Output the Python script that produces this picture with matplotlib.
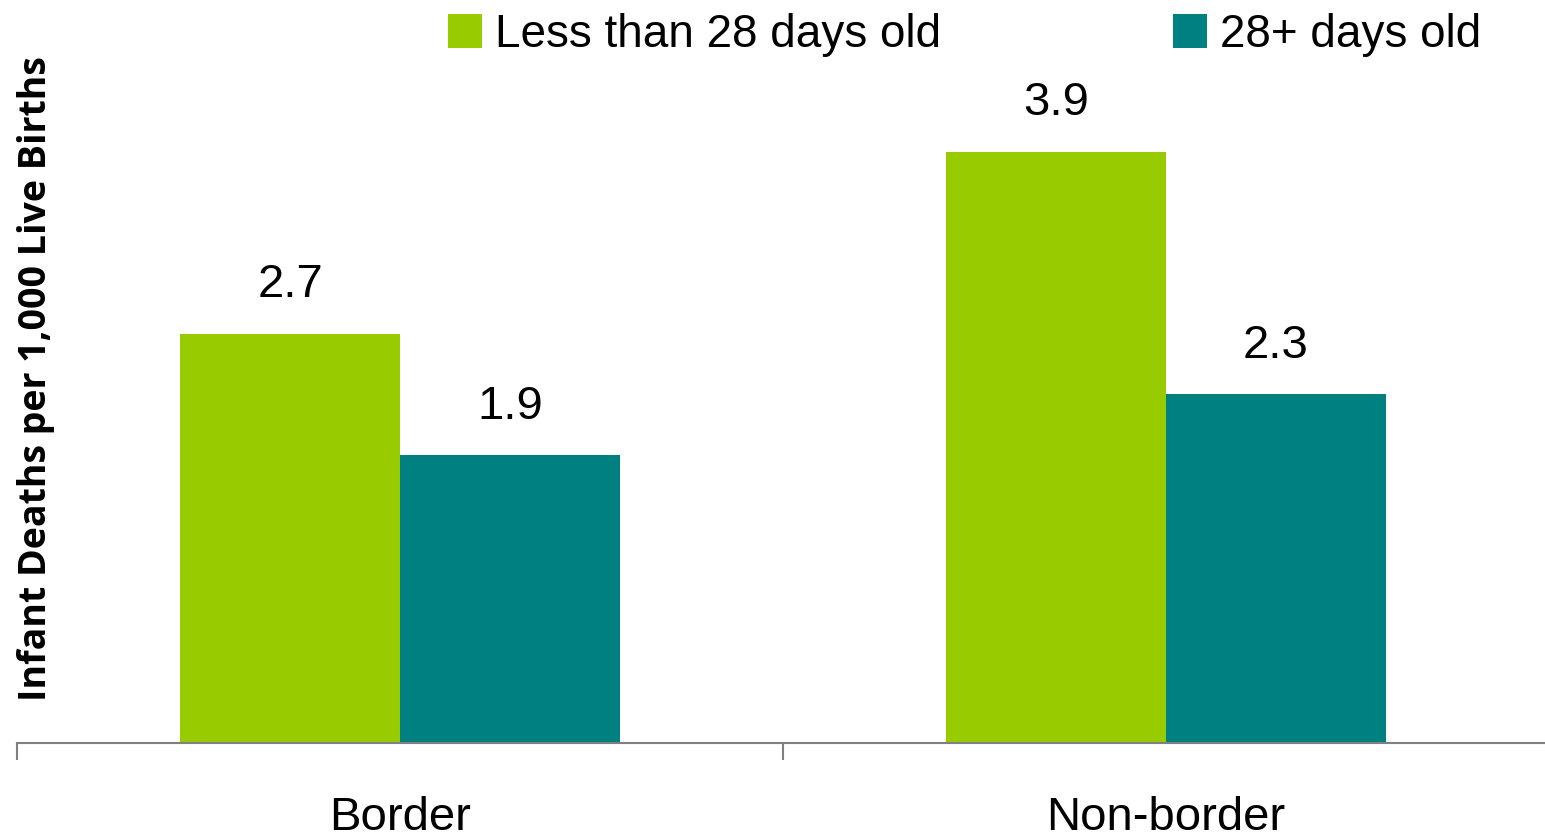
import matplotlib
matplotlib.use("Agg")
import matplotlib.pyplot as plt
import numpy as np

categories = ["Border", "Non-border"]
series_names = ["Less than 28 days old", "28+ days old"]
less_28 = [2.7, 3.9]
plus_28 = [1.9, 2.3]
colors = ["#99CC00", "#008080"]
ylabel = "Infant Deaths per 1,000 Live Births"

W, H = 1545, 838
fig = plt.figure(figsize=(W / 100, H / 100), dpi=100)
ax = fig.add_axes([17 / W, 1 - 743 / H, 1532 / W, 743 / H])

x = np.arange(len(categories))
bw = 0.287
b1 = ax.bar(x - bw / 2, less_28, bw, color=colors[0], label=series_names[0])
b2 = ax.bar(x + bw / 2, plus_28, bw, color=colors[1], label=series_names[1])

ax.set_xlim(-0.5, len(categories) - 0.5)
ax.set_ylim(0, 743 / 151.6)

tfont = "Liberation Sans"
for bars in (b1, b2):
    for r in bars:
        ax.annotate(f"{r.get_height():.1f}", (r.get_x() + r.get_width() / 2, r.get_height()),
                    xytext=(0, 19), textcoords="offset points", ha="center", va="bottom",
                    fontsize=34, family=tfont)

for s in ["top", "right", "left"]:
    ax.spines[s].set_visible(False)
ax.spines["bottom"].set_color("#808080")
ax.spines["bottom"].set_linewidth(1.5)
ax.set_yticks([])
ax.set_xticks(x)
ax.set_xticklabels(categories, fontsize=34, family=tfont)
ax.tick_params(axis="x", which="major", length=0, pad=38)
ax.set_xticks(np.arange(-0.5, len(categories)), minor=True)
ax.tick_params(axis="x", which="minor", length=12, width=1.5, color="#808080")

fig.text(36 / W, 1 - 379 / H, ylabel, rotation=90, ha="center", va="center",
         fontsize=27, family="Open Sans", fontweight="bold")

fig.legend(loc="upper left", bbox_to_anchor=(448 / W, 1 - 13 / H), ncol=2, frameon=False,
           prop={"family": tfont, "size": 33}, handlelength=0.75, handleheight=0.75,
           handletextpad=0.28, columnspacing=5.05, borderaxespad=0, borderpad=0)

fig.savefig("out.png", dpi=100)
